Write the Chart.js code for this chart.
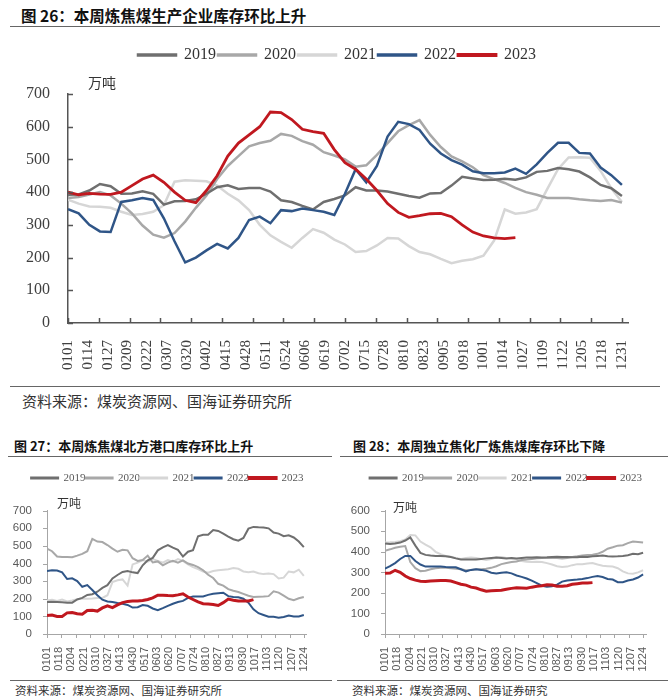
<!DOCTYPE html>
<html><head><meta charset="utf-8">
<script src="https://cdn.jsdelivr.net/npm/chart.js@4.4.1/dist/chart.umd.min.js"></script>
<style>
html,body{margin:0;padding:0;background:#fff;width:668px;height:699px;overflow:hidden;position:relative;}
.abs{position:absolute;}
.t{font-family:"Noto Sans CJK SC";font-weight:bold;color:#111;white-space:nowrap;}
.src{font-family:"Noto Sans CJK SC";color:#333;white-space:nowrap;}
.unit{font-family:"Noto Sans CJK SC";color:#333;white-space:nowrap;}
.hl{position:absolute;height:0;border-top:1.5px solid #666;}
</style></head><body>
<div class="abs t" style="left:21px;top:5px;font-size:15.5px;line-height:20px;">图 26：本周炼焦煤生产企业库存环比上升</div>
<div class="hl" style="left:10px;top:26px;width:650px;"></div>
<canvas id="c1" class="abs" style="left:0;top:40px" width="668" height="340"></canvas>
<div class="abs unit" style="left:88px;top:73px;font-size:14px;line-height:18px;">万吨</div>
<div class="hl" style="left:10px;top:386px;width:650px;border-top-width:1px;"></div>
<div class="abs src" style="left:22px;top:391px;font-size:15px;line-height:20px;">资料来源：煤炭资源网、国海证券研究所</div>

<div class="abs t" style="left:14px;top:437px;font-size:13px;line-height:18px;">图 27：本周炼焦煤北方港口库存环比上升</div>
<div class="abs t" style="left:353px;top:437px;font-size:13px;line-height:18px;">图 28：本周独立焦化厂炼焦煤库存环比下降</div>
<div class="hl" style="left:8px;top:456px;width:324px;border-top-width:1px;"></div>
<div class="hl" style="left:340px;top:456px;width:328px;border-top-width:1px;"></div>
<canvas id="c2" class="abs" style="left:0;top:462px" width="335" height="212"></canvas>
<canvas id="c3" class="abs" style="left:335px;top:462px" width="333" height="212"></canvas>
<div class="abs unit" style="left:57px;top:495px;font-size:12px;line-height:16px;">万吨</div>
<div class="abs unit" style="left:393px;top:499px;font-size:12px;line-height:16px;">万吨</div>
<div class="hl" style="left:10px;top:680px;width:322px;border-top-width:1px;"></div>
<div class="hl" style="left:337px;top:680px;width:331px;border-top-width:1px;"></div>
<div class="abs src" style="left:15px;top:682px;font-size:11.5px;line-height:16px;">资料来源：煤炭资源网、国海证券研究所</div>
<div class="abs src" style="left:352px;top:682px;font-size:11.5px;line-height:16px;">资料来源：煤炭资源网、国海证券研究</div>

<script>
// ---------- categories / tick labels ----------
const years = ['2019', '2020', '2021', '2022', '2023'];
const colors = ['#6f6f6f', '#a8a8a8', '#d6d6d6', '#2f5587', '#c0181f'];
const weekDay = [0,7,14,21,28,35,42,49,56,63,70,77,84,91,98,105,112,119,126,133,140,147,154,161,168,175,182,189,196,203,210,217,224,231,238,245,252,259,266,273,280,287,294,301,308,315,322,329,336,343,350,357,364];
const mainTickLabels = ['0101','0114','0127','0209','0222','0307','0320','0402','0415','0428','0511','0524','0606','0619','0702','0715','0728','0810','0823','0905','0918','1001','1014','1027','1109','1122','1205','1218','1231'];
const smallTickLabels = ['0101','0118','0204','0221','0310','0327','0413','0430','0517','0603','0620','0707','0724','0810','0827','0913','0930','1017','1103','1120','1207','1224'];

// ---------- Fig 26: coking coal producer inventory (万吨) ----------
const main2019 = [392,393,405,425,418,395,396,403,395,362,372,373,378,395,415,421,410,413,413,402,375,370,358,347,370,379,390,415,405,405,402,395,388,383,396,397,420,447,442,437,438,441,438,445,462,465,474,470,463,445,422,412,388];
const main2020 = [382,385,393,400,390,365,335,298,270,261,275,310,352,390,440,480,510,540,550,557,578,572,556,545,522,512,500,478,482,514,550,586,605,620,575,538,509,494,476,452,440,428,413,400,392,382,382,382,378,375,373,376,368];
const main2021 = [377,365,356,355,352,340,330,333,340,360,432,436,435,433,420,395,375,345,300,268,248,230,260,287,276,255,240,217,220,237,260,258,235,217,210,196,183,190,195,206,252,347,334,338,348,410,470,506,507,505,465,412,370];
const main2022 = [348,335,300,280,278,370,375,382,376,320,250,185,200,222,242,228,260,315,325,305,345,342,350,345,340,330,395,470,430,480,570,615,608,590,548,518,498,484,464,458,458,460,472,456,485,520,551,551,520,518,475,452,422];
const main2023 = [400,392,396,394,393,400,420,440,452,430,400,375,368,405,450,510,550,575,600,645,643,622,592,585,580,530,490,470,440,405,365,338,323,328,334,335,325,300,278,266,260,258,261];

// ---------- Fig 27: northern port inventory (万吨) ----------
const port2019 = [182,183,182,180,178,178,196,205,222,226,240,262,277,315,335,352,357,350,346,390,418,432,475,492,505,490,478,440,467,476,555,563,563,590,585,570,553,538,530,545,598,608,606,605,600,576,570,555,560,548,525,493];
const port2020 = [485,470,440,437,437,436,445,455,470,540,525,522,505,485,467,478,475,430,415,420,445,406,412,390,405,415,405,418,400,392,380,362,336,318,285,275,255,246,238,228,217,210,212,213,215,242,235,218,200,192,203,210];
const port2021 = [190,195,188,195,185,190,198,200,200,202,205,205,220,295,305,310,275,395,405,420,410,425,415,405,420,410,425,415,395,380,368,355,348,358,362,365,368,375,370,355,350,355,345,340,343,340,315,320,355,350,365,330];
const port2022 = [358,362,360,350,312,316,300,268,278,250,220,195,185,182,176,172,165,150,152,164,160,145,135,147,160,172,182,188,205,213,213,213,222,228,231,234,215,210,208,200,178,140,118,108,98,98,93,97,105,100,100,108];
const port2023 = [105,108,100,100,120,122,115,112,133,135,130,148,160,150,165,178,185,187,187,190,196,205,220,220,218,217,222,228,210,196,182,172,170,168,162,178,198,192,188,187,187,195];

// ---------- Fig 28: independent coking plant inventory (万吨) ----------
const coke2019 = [440,438,440,445,455,470,430,395,385,382,380,380,378,375,368,363,362,362,362,365,368,370,372,370,368,370,368,370,372,372,373,372,373,375,376,375,375,373,374,376,375,378,380,382,378,377,378,380,383,390,388,395];
const coke2020 = [405,412,420,425,428,350,320,306,308,315,320,322,322,320,318,315,310,312,315,315,318,322,330,340,345,350,353,360,362,365,368,370,370,370,370,368,370,375,378,382,384,386,390,400,415,422,430,432,442,450,448,445];
const coke2021 = [445,446,448,452,460,482,480,450,435,422,400,388,380,376,370,365,370,372,370,365,360,365,372,375,370,368,362,355,352,350,352,350,345,338,330,326,328,335,340,340,343,345,338,332,330,328,320,305,295,293,300,310];
const coke2022 = [318,330,345,365,380,380,355,338,328,328,328,328,326,325,325,315,305,312,315,312,308,298,295,298,300,295,285,278,270,260,248,235,230,232,240,255,260,263,265,268,272,278,282,277,268,265,252,252,260,265,275,290];
const coke2023 = [295,297,310,300,282,270,262,257,256,258,259,260,260,258,250,242,238,228,224,215,208,210,212,213,218,222,225,224,223,228,232,235,240,238,232,232,235,242,245,248,248,250];

// ---------- helpers ----------
const drawOrder = [3, 4, 5, 1, 0]; // 2023 drawn on top
function toPoints(vals) { return vals.map((v, i) => ({ x: weekDay[i], y: v })); }
function buildDatasets(series, widths) {
  return series.map((vals, i) => ({
    label: years[i],
    data: toPoints(vals),
    borderColor: colors[i],
    backgroundColor: colors[i],
    borderWidth: widths[i],
    pointRadius: 0,
    pointHoverRadius: 0,
    tension: 0,
    fill: false,
    order: drawOrder[i]
  }));
}

const tickMarks = {
  id: 'tickMarks',
  afterDraw(chart, args, o) {
    const { ctx } = chart; const xs = chart.scales.x, ys = chart.scales.y;
    ctx.save();
    ctx.strokeStyle = o.color; ctx.lineWidth = o.width;
    ctx.beginPath();
    for (let i = 0; i <= o.xCount; i++) {
      const px = Math.round(xs.getPixelForValue(i * o.xSpan / o.xCount)) + 0.5;
      ctx.moveTo(px, ys.bottom); ctx.lineTo(px, ys.bottom + o.xLen);
    }
    ys.ticks.forEach(t => {
      const py = Math.round(ys.getPixelForValue(t.value)) + 0.5;
      ctx.moveTo(xs.left, py); ctx.lineTo(xs.left + o.yLen, py);
    });
    ctx.stroke();
    ctx.restore();
  }
};
const legendSpacer = {
  id: 'legendSpacer',
  beforeUpdate(chart, args, o) {
    const lg = chart.legend;
    if (lg && !lg._spacerPatched) {
      const f = lg.fit;
      lg.fit = function () { f.call(this); this.height += o.extra; };
      lg._spacerPatched = true;
    }
  },
  beforeDraw(chart, args, o) {
    const lg = chart.legend;
    if (lg && !lg._shifted) { lg.left += o.shift; lg.right += o.shift; lg._shifted = true; }
  }
};

function makeChart(id, cfg) {
  return new Chart(document.getElementById(id), {
    type: 'line',
    data: { datasets: cfg.datasets },
    plugins: [tickMarks, legendSpacer],
    options: {
      responsive: false,
      animation: false,
      events: [],
      layout: { padding: cfg.padding },
      plugins: {
        tooltip: { enabled: false },
        legend: {
          position: 'top', align: 'center',
          labels: {
            sort: (a, b) => a.datasetIndex - b.datasetIndex,
            boxWidth: cfg.boxWidth, boxHeight: 1, padding: cfg.legendPad,
            color: cfg.legendColor,
            font: { family: 'Liberation Serif', size: cfg.legendSize }
          }
        },
        legendSpacer: { extra: cfg.extra, shift: cfg.shift },
        tickMarks: cfg.marks
      },
      scales: {
        x: {
          type: 'linear', min: 0, max: cfg.xMax,
          grid: { display: false },
          border: { display: true, color: cfg.axisColor, width: cfg.axisWidth },
          afterFit: s => { s.height = cfg.xHeight; },
          ticks: {
            stepSize: cfg.step, autoSkip: false, includeBounds: false,
            minRotation: 90, maxRotation: 90, padding: cfg.xPad,
            color: cfg.tickColor,
            font: { family: cfg.tickFamily, size: cfg.xSize },
            callback: v => {
              const k = Math.round(v / cfg.step);
              return (Math.abs(v - k * cfg.step) < 1e-6 && k < cfg.labels.length) ? cfg.labels[k] : null;
            }
          }
        },
        y: {
          min: 0, max: cfg.yMax,
          grid: { display: false },
          border: { display: true, color: cfg.axisColor, width: cfg.axisWidth },
          afterFit: s => { s.width = cfg.yWidth; },
          ticks: {
            stepSize: 100, padding: cfg.yPad, color: cfg.tickColor,
            font: { family: cfg.tickFamily, size: cfg.ySize }
          }
        }
      }
    }
  });
}

makeChart('c1', {
  datasets: buildDatasets([main2019, main2020, main2021, main2022, main2023], [2.5, 2.5, 2.5, 2.5, 2.8]),
  padding: { top: 5, left: 0, right: 40, bottom: 0 },
  boxWidth: 38, legendPad: 2, legendSize: 16, legendColor: '#333', extra: 21, shift: 23,
  marks: { color: '#555', width: 1.5, xCount: 18, xSpan: 364, xLen: -5, yLen: 5 },
  xMax: 368, step: 13, labels: mainTickLabels, xHeight: 57, xPad: 9, xSize: 15,
  yMax: 700, yWidth: 68, yPad: 10, ySize: 16,
  axisColor: '#555', axisWidth: 1.5, tickColor: '#404040', tickFamily: 'Liberation Serif'
});

makeChart('c2', {
  datasets: buildDatasets([port2019, port2020, port2021, port2022, port2023], [2, 2, 2, 2, 3]),
  padding: { top: 10.5, left: 0, right: 28.3, bottom: 0 },
  boxWidth: 27, legendPad: 0, legendSize: 11, legendColor: '#595959', extra: 17.2, shift: 14,
  marks: { color: '#a6a6a6', width: 1, xCount: 18, xSpan: 357, xLen: 4, yLen: -4 },
  xMax: 361, step: 17, labels: smallTickLabels, xHeight: 40, xPad: 5, xSize: 11,
  yMax: 700, yWidth: 47, yPad: 7, ySize: 11.5,
  axisColor: '#a6a6a6', axisWidth: 1, tickColor: '#595959', tickFamily: 'Liberation Sans'
});

makeChart('c3', {
  datasets: buildDatasets([coke2019, coke2020, coke2021, coke2022, coke2023], [2, 2, 2, 2, 3]),
  padding: { top: 10.5, left: 0, right: 21.3, bottom: 0 },
  boxWidth: 27, legendPad: 0, legendSize: 11, legendColor: '#595959', extra: 17.2, shift: 15,
  marks: { color: '#a6a6a6', width: 1, xCount: 18, xSpan: 357, xLen: 4, yLen: -4 },
  xMax: 362, step: 17, labels: smallTickLabels, xHeight: 40, xPad: 5, xSize: 11,
  yMax: 600, yWidth: 50, yPad: 7, ySize: 11.5,
  axisColor: '#a6a6a6', axisWidth: 1, tickColor: '#595959', tickFamily: 'Liberation Sans'
});
</script>
</body></html>
